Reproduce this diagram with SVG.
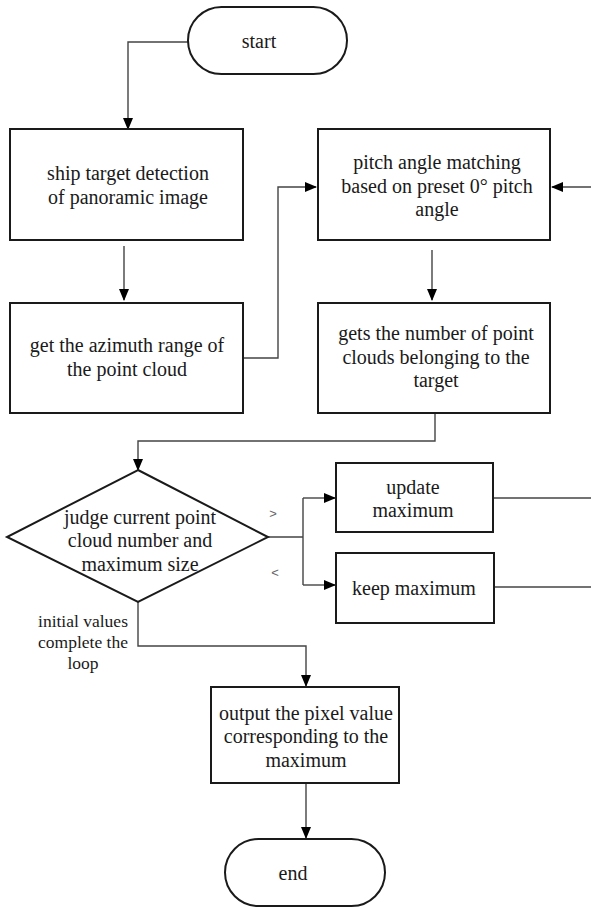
<svg xmlns="http://www.w3.org/2000/svg" width="591" height="908" viewBox="0 0 591 908">
<defs>
<marker id="ah" markerUnits="userSpaceOnUse" markerWidth="12" markerHeight="10" refX="11" refY="5" orient="auto">
<path d="M0,0 L12,5 L0,10 Z" fill="#000"/>
</marker>
<style>
.n{fill:#fff;stroke:#1a1a1a;stroke-width:2}
.t{font-family:"Liberation Serif","Times New Roman",serif;font-size:20px;fill:#1a1a1a;text-anchor:middle}
.s{font-family:"Liberation Serif","Times New Roman",serif;font-size:17.5px;fill:#1a1a1a;text-anchor:middle}
.g{font-family:"Liberation Sans",Arial,sans-serif;font-size:13px;fill:#666;text-anchor:middle}
.c{fill:none;stroke:#444;stroke-width:1.4}
.a{marker-end:url(#ah)}
</style>
</defs>
<rect width="591" height="908" fill="#fff"/>
<g id="connectors">
<path class="c a" d="M188,42 H128 V129"/>
<path class="c a" d="M124,246 V300"/>
<path class="c a" d="M432,250 V300"/>
<path class="c a" d="M591,187 H552"/>
<path class="c a" d="M243,358 H278 V187 H316"/>
<path class="c a" d="M435,413 V441 H138 V470"/>
<path class="c" d="M268,537 H303 M303,498 V585"/>
<path class="c a" d="M303,498 H335"/>
<path class="c a" d="M303,585 H335"/>
<path class="c" d="M493,498 H591"/>
<path class="c" d="M494,587 H591"/>
<path class="c a" d="M138,602 V646 H306 V686"/>
<path class="c a" d="M306,783 V838"/>
<text class="g" x="273" y="518">&gt;</text>
<text class="g" x="275" y="577">&lt;</text>
<text class="s" x="83" y="627">initial values</text>
<text class="s" x="83" y="648">complete the</text>
<text class="s" x="83" y="669">loop</text>
</g>
<g id="start">
<rect class="n" x="188" y="7" width="159" height="67" rx="33.5"/>
<text class="t" x="259" y="48">start</text>
</g>
<g id="ship-detection">
<rect class="n" x="10" y="129" width="233" height="111"/>
<text class="t" x="128" y="180">ship target detection</text>
<text class="t" x="128" y="204">of panoramic image</text>
</g>
<g id="azimuth-range">
<rect class="n" x="10" y="303" width="233" height="110"/>
<text class="t" x="127" y="352">get the azimuth range of</text>
<text class="t" x="127" y="376">the point cloud</text>
</g>
<g id="pitch-matching">
<rect class="n" x="318" y="129" width="232" height="111"/>
<text class="t" x="437" y="169">pitch angle matching</text>
<text class="t" x="437" y="193">based on preset 0° pitch</text>
<text class="t" x="437" y="216">angle</text>
</g>
<g id="point-count">
<rect class="n" x="318" y="303" width="232" height="110"/>
<text class="t" x="436" y="340">gets the number of point</text>
<text class="t" x="436" y="364">clouds belonging to the</text>
<text class="t" x="436" y="387">target</text>
</g>
<g id="judge">
<path class="n" d="M138,470 L268,537 L138,602 L7,537 Z"/>
<text class="t" x="140" y="524">judge current point</text>
<text class="t" x="140" y="547">cloud number and</text>
<text class="t" x="140" y="571">maximum size</text>
</g>
<g id="update-max">
<rect class="n" x="336" y="463" width="157" height="69"/>
<text class="t" x="413" y="494">update</text>
<text class="t" x="413" y="517">maximum</text>
</g>
<g id="keep-max">
<rect class="n" x="336" y="553" width="158" height="70"/>
<text class="t" x="414" y="595">keep maximum</text>
</g>
<g id="output">
<rect class="n" x="211" y="687" width="188" height="96"/>
<text class="t" x="306" y="720">output the pixel value</text>
<text class="t" x="306" y="743">corresponding to the</text>
<text class="t" x="306" y="767">maximum</text>
</g>
<g id="end">
<rect class="n" x="225" y="839" width="160" height="67" rx="33.5"/>
<text class="t" x="293" y="880">end</text>
</g>
</svg>
